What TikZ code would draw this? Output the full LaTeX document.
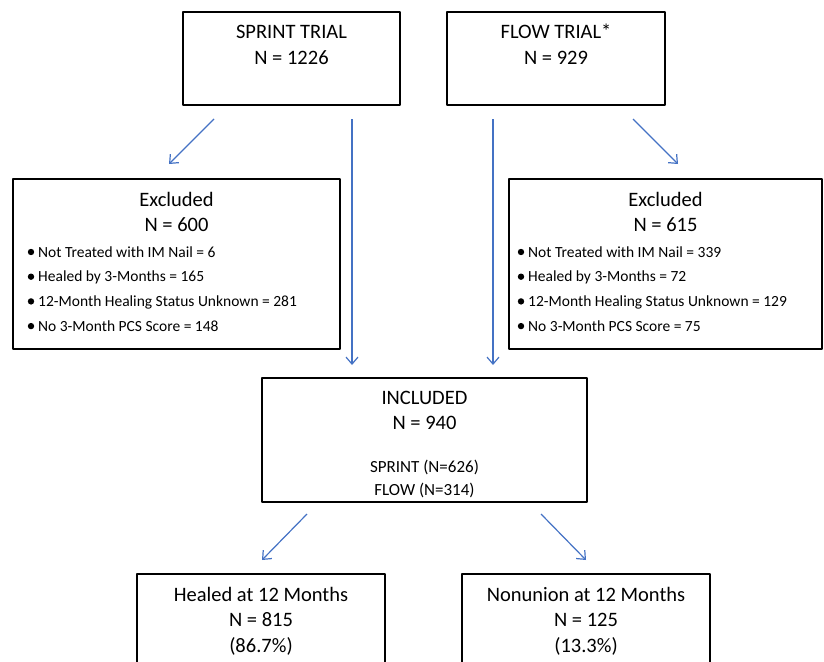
\documentclass[tikz,border=0pt]{standalone}
\usepackage{fontspec}
\setmainfont{Carlito}
\usetikzlibrary{arrows.meta}
\tikzset{>={Straight Barb[length=7pt,width=12pt]}}
\definecolor{arrowblue}{RGB}{68,114,196}

\begin{document}
\begin{tikzpicture}[x=1pt,y=-1pt,line join=round,
    box/.style={draw=black, line width=1.6pt, inner sep=0pt},
    ttl/.style={font=\fontsize{20.5}{24}\selectfont, anchor=base, inner sep=0pt},
    sub/.style={font=\fontsize{17}{20}\selectfont, anchor=base, inner sep=0pt},
    item/.style={font=\fontsize{15.5}{18}\selectfont, anchor=base west, inner sep=0pt},
    flow/.style={->, draw=arrowblue, line width=1.2pt}]
    \useasboundingbox (0,0) rectangle (824,661);
    \clip (0,0) rectangle (824,661);

    % trials
    \node[box, minimum width=217pt, minimum height=93pt] (sprint) at (291.5,58.5) {};
    \node[box, minimum width=218pt, minimum height=93pt] (flowtrial) at (556,58.5) {};
    \node[ttl] (sprintA) at (291.5,38.6) {SPRINT TRIAL};
    \node[ttl] (sprintB) at (291.5,64.6) {N = 1226};
    \node[ttl] (flowA) at (556,38.6) {FLOW TRIAL*};
    \node[ttl] (flowB) at (556,64.6) {N = 929};

    % excluded
    \node[box, minimum width=327pt, minimum height=170pt] (exL) at (176.5,264) {};
    \node[box, minimum width=313pt, minimum height=170pt] (exR) at (665.5,264) {};
    \node[ttl] (exLA) at (176.5,206.6) {Excluded};
    \node[ttl] (exLB) at (176.5,231.6) {N = 600};
    \node[ttl] (exRA) at (665.5,206.6) {Excluded};
    \node[ttl] (exRB) at (665.5,231.6) {N = 615};

    \foreach \txt [count=\i] in {Not Treated with IM Nail = 6, Healed by 3-Months = 165,
        12-Month Healing Status Unknown = 281, No 3-Month PCS Score = 148}
    {
    \fill (31,{252+24.7*(\i-1)}) circle (3.2pt);
    \node[item] (exL\i) at (38,{257+24.7*(\i-1)}) {\txt};
    }
    \foreach \txt [count=\i] in {Not Treated with IM Nail = 339, Healed by 3-Months = 72,
        12-Month Healing Status Unknown = 129, No 3-Month PCS Score = 75}
    {
    \fill (521,{252+24.7*(\i-1)}) circle (3.2pt);
    \node[item] (exR\i) at (528,{257+24.7*(\i-1)}) {\txt};
    }

    % included
    \node[ttl] (inA) at (424.5,404.6) {INCLUDED};
    \node[ttl] (inB) at (424.5,429.6) {N = 940};
    \node[sub] (inC) at (424.5,472.5) {SPRINT (N=626)};
    \node[sub] (inD) at (424.5,495.5) {FLOW (N=314)};
    \node[box, minimum width=325pt, minimum height=124pt] (incl) at (424.5,440) {};

    % outcomes
    \node[box, minimum width=248pt, minimum height=126pt] (healed) at (261,637) {};
    \node[box, minimum width=248pt, minimum height=126pt] (nonunion) at (586,637) {};
    \node[ttl] (heA) at (261,601.6) {Healed at 12 Months};
    \node[ttl] (heB) at (261,626.6) {N = 815};
    \node[ttl] (heC) at (261,652.6) {(86.7\%)};
    \node[ttl] (nuA) at (586,601.6) {Nonunion at 12 Months};
    \node[ttl] (nuB) at (586,626.6) {N = 125};
    \node[ttl] (nuC) at (586,652.6) {(13.3\%)};

    % arrows
    \coordinate (sL1) at (214,119);  \coordinate (sL2) at (169,164);
    \coordinate (sV1) at (352,119);  \coordinate (sV2) at (352,365);
    \coordinate (fV1) at (493,119);  \coordinate (fV2) at (493,365);
    \coordinate (fR1) at (633,119);  \coordinate (fR2) at (678,164);
    \coordinate (iL1) at (307,514);  \coordinate (iL2) at (262,560);
    \coordinate (iR1) at (541,514);  \coordinate (iR2) at (586,560);
    \foreach \a/\b in {sL1/sL2, sV1/sV2, fV1/fV2, fR1/fR2, iL1/iL2, iR1/iR2}
        \draw[flow] (\a) -- (\b);
\end{tikzpicture}
\end{document}
